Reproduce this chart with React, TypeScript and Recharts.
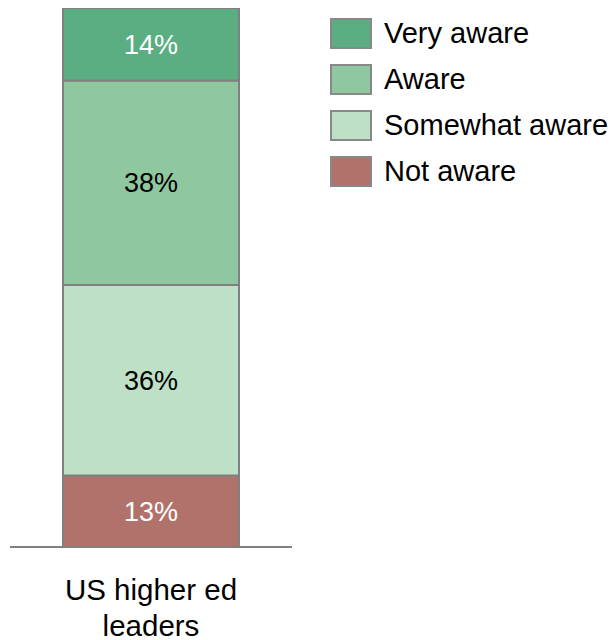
import React from 'react';
import { BarChart, Bar, XAxis, YAxis, LabelList, Legend } from 'recharts';

const categories = ['US higher ed leaders'];
const tickLabelLines = [['US higher ed', 'leaders']];
const notAware = [13.4];
const somewhatAware = [35.7];
const aware = [38.3];
const veryAware = [13.6];

const seriesKeys = ['notAware', 'somewhatAware', 'aware', 'veryAware'];
const seriesNames = ['Not aware', 'Somewhat aware', 'Aware', 'Very aware'];
const seriesColors = ['#B0726B', '#BDE0C6', '#8FC7A0', '#5BAE82'];
const labelColors = ['#ffffff', '#000000', '#000000', '#ffffff'];

const data = categories.map((c, i) => ({
  name: c,
  notAware: notAware[i],
  somewhatAware: somewhatAware[i],
  aware: aware[i],
  veryAware: veryAware[i],
}));

const FONT = '"Liberation Sans", Arial, sans-serif';

const Tick = (props: any) => {
  const { x, y, index } = props;
  const lines = tickLabelLines[index] || [String(props.payload?.value ?? '')];
  return (
    <text x={x} y={y} textAnchor="middle" fontFamily={FONT} fontSize={29.5} fill="#000">
      {lines.map((l: string, i: number) => (
        <tspan key={i} x={x} dy={i === 0 ? 53 : 36}>{l}</tspan>
      ))}
    </text>
  );
};

const LegendContent = () => {
  const order = [3, 2, 1, 0];
  return (
    <div style={{ fontFamily: FONT, fontSize: 29, color: '#000' }}>
      {order.map((k) => (
        <div key={k} style={{ display: 'flex', alignItems: 'center', height: 31, marginBottom: 15, whiteSpace: 'nowrap' }}>
          <div style={{ width: 42, height: 31, boxSizing: 'border-box', border: '2px solid #888', background: seriesColors[k] }} />
          <span style={{ marginLeft: 12, lineHeight: '31px' }}>{seriesNames[k]}</span>
        </div>
      ))}
    </div>
  );
};

export default function App() {
  return (
    <div style={{ position: 'absolute', left: 0, top: 0, width: 611, height: 640, background: '#fff' }}>
      <BarChart width={611} height={640} data={data} margin={{ top: 8, right: 319, bottom: 0, left: 10 }}>
        <XAxis
          dataKey="name"
          axisLine={{ stroke: '#808080', strokeWidth: 2 }}
          tickLine={false}
          tickSize={0}
          tickMargin={0}
          height={93}
          tick={<Tick />}
          interval={0}
        />
        <YAxis hide type="number" domain={[0, 101]} allowDataOverflow />
        <Legend
          layout="horizontal"
          align="center"
          verticalAlign="middle"
          content={<LegendContent />}
          wrapperStyle={{ position: 'absolute', left: 330, top: 18, width: 'auto', height: 'auto' }}
        />
        {seriesKeys.map((k, i) => (
          <Bar
            key={k}
            dataKey={k}
            name={seriesNames[i]}
            stackId="a"
            fill={seriesColors[i]}
            stroke="#808080"
            strokeWidth={2}
            barSize={176}
            isAnimationActive={false}
          >
            <LabelList
              dataKey={k}
              position="center"
              formatter={(v: any) => `${Math.round(Number(v))}%`}
              fill={labelColors[i]}
              fontSize={27}
              fontFamily={FONT}
            />
          </Bar>
        ))}
      </BarChart>
    </div>
  );
}
